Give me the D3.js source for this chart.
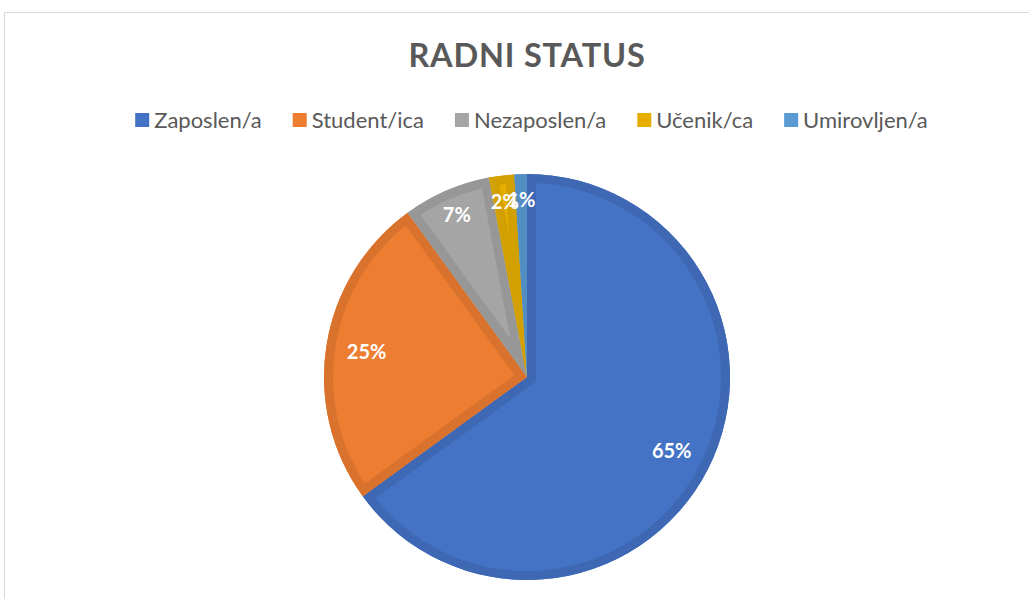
<!DOCTYPE html>
<html>
<head>
<meta charset="utf-8">
<script src="https://cdn.jsdelivr.net/npm/d3@7"></script>
<style>
  body { margin: 0; background: #fff; }
  svg { display: block; }
</style>
</head>
<body>
<div id="chart"></div>
<script>
// chart data
const categories = ["Zaposlen/a", "Student/ica", "Nezaposlen/a", "Učenik/ca", "Umirovljen/a"];
const values = [65, 25, 7, 2, 1];
const colors = ["#4472C4", "#ED7D31", "#A5A5A5", "#E6AF00", "#5B9BD5"];
const title = "RADNI STATUS";

const width = 1029;
const height = 599;
const font = "Lato, 'Open Sans', sans-serif";

const svg = d3.select("#chart")
  .append("svg")
  .attr("width", width)
  .attr("height", height);

// chart frame (only top and left edges are visible)
svg.append("path")
  .attr("d", `M4.5,${height} V12.5 H${width}`)
  .attr("fill", "none")
  .attr("stroke", "#d9d9d9")
  .attr("stroke-width", 1);

// title
svg.append("text")
  .attr("x", 527)
  .attr("y", 67)
  .attr("text-anchor", "middle")
  .attr("font-family", font)
  .attr("font-weight", "bold")
  .attr("font-size", 32.5)
  .attr("fill", "#595959")
  .attr("letter-spacing", 0.8)
  .text(title);

// legend, laid out left to right and centred
const legend = svg.append("g");
const items = legend.selectAll("g")
  .data(categories)
  .join("g");

items.append("rect")
  .attr("width", 14)
  .attr("height", 14)
  .attr("y", -7)
  .attr("fill", (d, i) => colors[i]);

items.append("text")
  .attr("x", 19)
  .attr("dy", "0.35em")
  .attr("font-family", font)
  .attr("font-size", 22)
  .attr("fill", "#595959")
  .text((d) => d);

let cursor = 0;
items.each(function () {
  const g = d3.select(this);
  g.attr("transform", `translate(${cursor},0)`);
  const w = 19 + g.select("text").node().getComputedTextLength();
  cursor += w + 31;
});
const legendWidth = cursor - 31;
legend.attr("transform", `translate(${531.5 - legendWidth / 2},120)`);

// pie
const cx = 527, cy = 377, radius = 203;
const pie = d3.pie().sort(null).value((d) => d)(values);
const arc = d3.arc().innerRadius(0).outerRadius(radius);

const pieG = svg.append("g").attr("transform", `translate(${cx},${cy})`);

const defs = svg.append("defs");
pie.forEach((d, i) => {
  defs.append("clipPath")
    .attr("id", `clip${i}`)
    .append("path")
    .attr("d", arc(d));
});

const slices = pieG.selectAll("g.slice")
  .data(pie)
  .join("g")
  .attr("class", "slice");

slices.append("path")
  .attr("d", arc)
  .attr("fill", (d, i) => colors[i]);

// darker inner border of each slice
slices.append("path")
  .attr("d", arc)
  .attr("fill", "none")
  .attr("clip-path", (d, i) => `url(#clip${i})`)
  .attr("stroke", (d, i) => d3.color(colors[i]).darker(0.25))
  .attr("stroke-width", 18)
  .attr("stroke-linejoin", "miter");

// data labels
const total = d3.sum(values);
pieG.selectAll("text.label")
  .data(pie)
  .join("text")
  .attr("class", "label")
  .attr("transform", (d) => {
    const a = (d.startAngle + d.endAngle) / 2;
    const r = d.value / total < 0.1 ? radius * 0.87 : radius * 0.8;
    return `translate(${Math.sin(a) * r},${-Math.cos(a) * r})`;
  })
  .attr("text-anchor", "middle")
  .attr("dy", "0.35em")
  .attr("font-family", font)
  .attr("font-weight", "bold")
  .attr("font-size", 20)
  .attr("fill", "#fff")
  .text((d) => `${Math.round(d.value / total * 100)}%`);
</script>
</body>
</html>
